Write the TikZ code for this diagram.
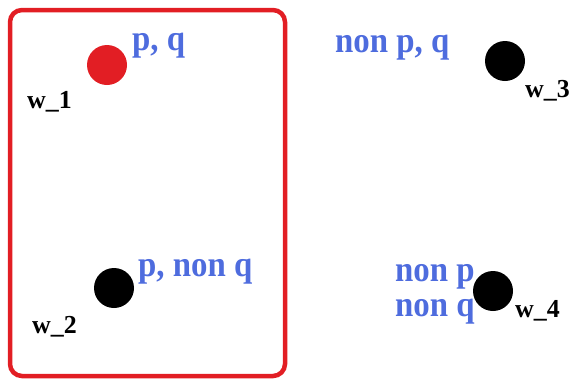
\documentclass[tikz,border=0pt]{standalone}
\usepackage{fontspec}
\setmainfont{Liberation Serif}
\definecolor{lblue}{RGB}{78,108,222}
\definecolor{rred}{RGB}{226,30,36}
\newcommand{\tallprop}[1]{\scalebox{1}[1.1]{#1}}
\begin{document}
\begin{tikzpicture}[x=1bp,y=-1bp,
  world/.style={circle,fill=black,minimum size=40bp,inner sep=0pt},
  prop/.style={anchor=base west,inner sep=0pt,text=lblue,font=\fontsize{33}{36}\selectfont\bfseries},
  wname/.style={anchor=base west,inner sep=0pt,text=black,font=\fontsize{26}{28}\selectfont\bfseries}]
\useasboundingbox (0,0) rectangle (573,380);
\draw[rred,line width=4.5bp,rounded corners=12bp] (10,10) rectangle (285,376);
\node[world,fill=rred] (d1) at (107,65) {};
\node[world] (d2) at (114,288) {};
\node[world] (d3) at (505,61) {};
\node[world] (d4) at (493,291) {};
\node[prop] (l1) at (132,50) {\tallprop{p, q}};
\node[prop] (l2) at (138,276) {\tallprop{p, non q}};
\node[prop] (l3) at (335,52) {\tallprop{non p, q}};
\node[prop] (l4a) at (395,281) {\tallprop{non p}};
\node[prop] (l4b) at (395,316) {\tallprop{non q}};
\node[wname] (w1) at (27,108) {w\_1};
\node[wname] (w2) at (32,333) {w\_2};
\node[wname] (w3) at (525,97) {w\_3};
\node[wname] (w4) at (515,317) {w\_4};
\end{tikzpicture}
\end{document}
